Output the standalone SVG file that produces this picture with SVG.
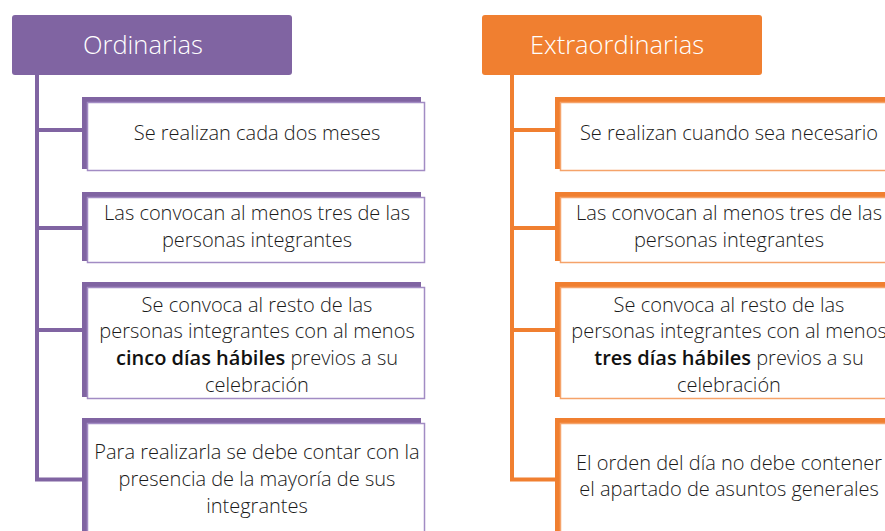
<svg xmlns="http://www.w3.org/2000/svg" width="885" height="531" viewBox="0 0 885 531">
<style>
.hp{fill:#8064A2}
.ho{fill:#F07F30}
.ht{font-family:"Open Sans","Noto Sans","Liberation Sans",sans-serif;font-size:25.5px;font-weight:300;fill:#fff;text-anchor:middle}
.t{font-family:"Open Sans","Noto Sans","Liberation Sans",sans-serif;font-size:20px;font-weight:300;fill:#1a1a1a;text-anchor:middle}
.b{font-weight:600;fill:#111}
.wp{fill:#fff;stroke:#A28CC4;stroke-width:1.5}
.wo{fill:#fff;stroke:#F5A36A;stroke-width:1.5}
.cp{stroke:#8064A2;stroke-width:4;fill:none}
.co{stroke:#F07F30;stroke-width:4;fill:none}
</style>
<rect width="885" height="531" fill="#fff"/>
<g id="connectors">
<path class="cp" d="M37 74V481.5M35 130H84M35 228H84M35 330H84M35 479.5H84"/>
<path class="co" d="M512 74V481.5M510 130H557M510 228H557M510 330H557M510 479.5H557"/>
</g>
<g id="ordinarias">
<rect class="hp" x="12" y="15" width="280" height="60" rx="3"/>
<text class="ht" x="143" y="54">Ordinarias</text>
</g>
<g id="extraordinarias">
<rect class="ho" x="482" y="15" width="280" height="60" rx="3"/>
<text class="ht" x="617" y="54">Extraordinarias</text>
</g>
<g id="o1">
<rect class="hp" x="82" y="97" width="339" height="72"/>
<rect class="wp" x="87.5" y="102.5" width="337" height="68"/>
<text class="t" x="257" y="140">Se realizan cada dos meses</text>
</g>
<g id="o2">
<rect class="hp" x="82" y="192" width="339" height="69"/>
<rect class="wp" x="87.5" y="197.5" width="337" height="65"/>
<text class="t" x="257" y="220">Las convocan al menos tres de las</text>
<text class="t" x="257" y="247">personas integrantes</text>
</g>
<g id="o3">
<rect class="hp" x="82" y="282" width="339" height="115"/>
<rect class="wp" x="87.5" y="287.5" width="337" height="111"/>
<text class="t" x="257" y="312">Se convoca al resto de las</text>
<text class="t" x="257" y="338">personas integrantes con al menos</text>
<text class="t" x="257" y="365"><tspan class="b">cinco días hábiles</tspan> previos a su</text>
<text class="t" x="257" y="392">celebración</text>
</g>
<g id="o4">
<rect class="hp" x="82" y="418" width="339" height="130"/>
<rect class="wp" x="87.5" y="423.5" width="337" height="126"/>
<text class="t" x="257" y="459">Para realizarla se debe contar con la</text>
<text class="t" x="257" y="486">presencia de la mayoría de sus</text>
<text class="t" x="257" y="513">integrantes</text>
</g>
<g id="e1">
<rect class="ho" x="555" y="97" width="339" height="72"/>
<rect class="wo" x="560.5" y="102.5" width="337" height="68"/>
<text class="t" x="729" y="140">Se realizan cuando sea necesario</text>
</g>
<g id="e2">
<rect class="ho" x="555" y="192" width="339" height="69"/>
<rect class="wo" x="560.5" y="197.5" width="337" height="65"/>
<text class="t" x="729" y="220">Las convocan al menos tres de las</text>
<text class="t" x="729" y="247">personas integrantes</text>
</g>
<g id="e3">
<rect class="ho" x="555" y="282" width="339" height="115"/>
<rect class="wo" x="560.5" y="287.5" width="337" height="111"/>
<text class="t" x="729" y="312">Se convoca al resto de las</text>
<text class="t" x="729" y="338">personas integrantes con al menos</text>
<text class="t" x="729" y="365"><tspan class="b">tres días hábiles</tspan> previos a su</text>
<text class="t" x="729" y="392">celebración</text>
</g>
<g id="e4">
<rect class="ho" x="555" y="418" width="339" height="130"/>
<rect class="wo" x="560.5" y="423.5" width="337" height="126"/>
<text class="t" x="729" y="470">El orden del día no debe contener</text>
<text class="t" x="729" y="496">el apartado de asuntos generales</text>
</g>
</svg>
